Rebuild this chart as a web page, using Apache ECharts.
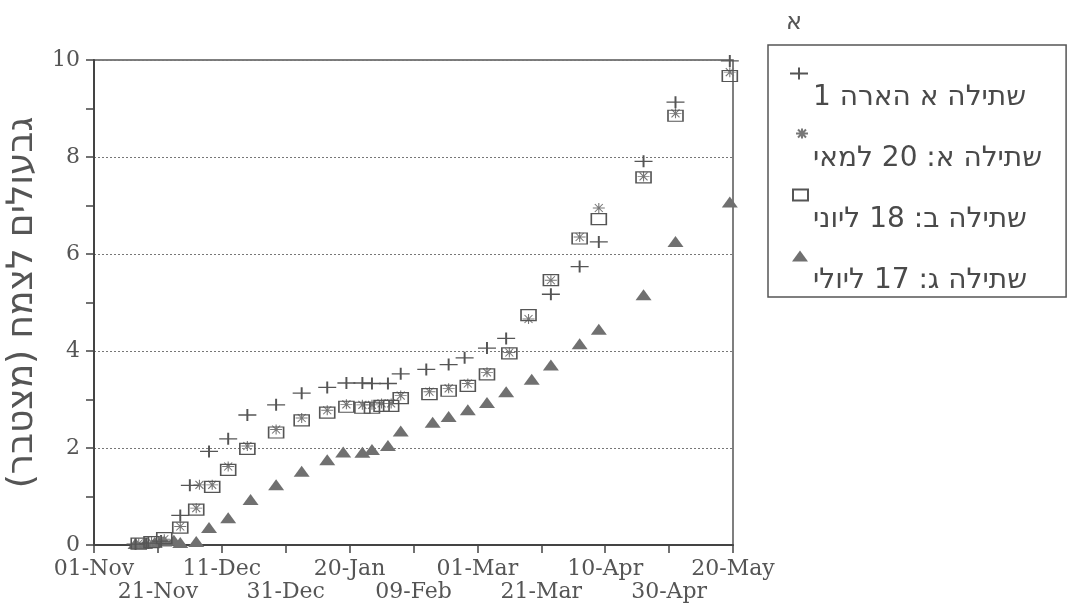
<!DOCTYPE html>
<html>
<head>
<meta charset="utf-8">
<script src="https://cdn.jsdelivr.net/npm/echarts@6/dist/echarts.min.js"></script>
<style>
  html, body { margin: 0; padding: 0; background: #ffffff; }
  #chart { width: 1071px; height: 612px; }
</style>
</head>
<body>
<div id="chart"></div>
<script>
// x values are days counted from 01-Nov
const xTickLabels = ['01-Nov','21-Nov','11-Dec','31-Dec','20-Jan','09-Feb','01-Mar','21-Mar','10-Apr','30-Apr','20-May'];
const seriesNames = ['שתילה א הארה 1', 'שתילה א: 20 למאי', 'שתילה ב: 18 ליוני', 'שתילה ג: 17 ליולי'];
const yAxisTitle = 'גבעולים לצמח (מצטבר)';
const panelTitle = 'א';

// series A  (+)
const aDays = [13,17,21,27,30,36,42,48,57,65,73,79,84,87,92,96,104,111,116,123,129,143,152,158,172,182,199];
const aVals = [0.02,0.04,0.08,0.61,1.23,1.93,2.19,2.68,2.89,3.13,3.25,3.34,3.34,3.33,3.33,3.53,3.62,3.72,3.86,4.06,4.26,5.17,5.74,6.25,7.91,9.13,9.98];
// series B  (*)
const bDays = [14,18,22,27,32,33,37,42,48,57,65,73,79,84,87,90,93,96,105,111,117,123,130,136,143,152,158,172,182,199];
const bVals = [0.03,0.06,0.12,0.38,0.76,1.24,1.24,1.62,2.04,2.38,2.62,2.78,2.9,2.89,2.89,2.92,2.92,3.08,3.16,3.23,3.33,3.56,3.97,4.66,5.46,6.35,6.95,7.6,8.9,9.75];
// series C  (square)
const cDays = [14,18,22,27,32,37,42,48,57,65,73,79,84,87,90,93,96,105,111,117,123,130,136,143,152,158,172,182,199];
const cVals = [0.03,0.06,0.14,0.36,0.73,1.2,1.55,1.98,2.32,2.57,2.73,2.85,2.83,2.83,2.87,2.87,3.03,3.11,3.18,3.28,3.52,3.95,4.74,5.46,6.32,6.72,7.58,8.85,9.67];
// series D  (triangle)
const dDays = [13,16,19,22,25,27,32,36,42,49,57,65,73,78,84,87,92,96,106,111,117,123,129,137,143,152,158,172,182,199];
const dVals = [0.03,0.03,0.05,0.08,0.1,0.05,0.07,0.36,0.56,0.94,1.24,1.52,1.76,1.92,1.91,1.97,2.05,2.35,2.53,2.65,2.79,2.94,3.16,3.42,3.71,4.15,4.45,5.16,6.26,7.07];

const RLM = '\u200F';
const pair = (d, v) => d.map((x, i) => [x, v[i]]);

const symA = 'path://M0,6 L18,6 M9,0 L9,12';
const symB = 'path://M0,5 L12,5 M6,0 L6,10 M2,1 L10,9 M10,1 L2,9';
const symC = 'path://M0,0 L15,0 L15,11 L0,11 Z';
const iconA = 'path://M0,36 M6,6 L24,6 M15,0 L15,12';
const iconB = 'path://M0,36 M12,5 L24,5 M18,0 L18,10 M14,1 L22,9 M22,1 L14,9';
const iconC = 'path://M0,36 M9,0 L24,0 L24,11 L9,11 Z';
const iconD = 'path://M0,36 M8,11 L16,0 L24,11 Z';

const chart = echarts.init(document.getElementById('chart'), null, { renderer: 'canvas' });
const serif = 'DejaVu Serif';
const sans = 'DejaVu Sans';

const xBase = {
  type: 'value', min: 0, max: 200, interval: 20, position: 'bottom', offset: 0,
  splitLine: { show: false }
};
const labelOf = (v) => xTickLabels[Math.round(v / 20)] || '';

chart.setOption({
  animation: false,
  backgroundColor: '#ffffff',
  title: {
    text: panelTitle, left: 781, top: 6,
    textStyle: { fontFamily: sans, fontSize: 24, fontWeight: 'normal', color: '#555' }
  },
  grid: { left: 94, right: 338, top: 60, bottom: 67, show: true, borderColor: '#555', borderWidth: 1.5, outerBoundsMode: 'none' },
  legend: {
    orient: 'vertical', left: 768, top: 45,
    padding: [14, 24, 2, 15], itemGap: 8,
    itemWidth: 24, itemHeight: 36,
    borderColor: '#555', borderWidth: 1.5,
    selectedMode: false,
    formatter: n => '\n' + RLM + n + RLM,
    textStyle: { fontFamily: sans, fontSize: 28, color: '#4a4a4a', lineHeight: 25 },
    data: [
      { name: seriesNames[0], icon: iconA },
      { name: seriesNames[1], icon: iconB },
      { name: seriesNames[2], icon: iconC },
      { name: seriesNames[3], icon: iconD }
    ]
  },
  xAxis: [
    Object.assign({}, xBase, {
      axisLine: { lineStyle: { color: '#444', width: 2 } },
      axisTick: { show: true, inside: false, length: 8, lineStyle: { color: '#444', width: 1.5 } },
      axisLabel: {
        margin: 13, fontFamily: serif, fontSize: 22, lineHeight: 23, color: '#555',
        showMinLabel: true, showMaxLabel: true,
        formatter: (v) => (Math.round(v / 20) % 2 === 0 ? labelOf(v) : '')
      }
    }),
    Object.assign({}, xBase, {
      axisLine: { show: false },
      axisTick: { show: false },
      axisLabel: {
        margin: 36, fontFamily: serif, fontSize: 22, lineHeight: 23, color: '#555',
        showMinLabel: false, showMaxLabel: false,
        formatter: (v) => (Math.round(v / 20) % 2 === 1 ? labelOf(v) : '')
      }
    })
  ],
  yAxis: {
    type: 'value', min: 0, max: 10, interval: 2,
    name: RLM + yAxisTitle + RLM, nameLocation: 'middle', nameRotate: 90, nameGap: 51,
    nameTextStyle: { fontFamily: sans, fontSize: 36, color: '#555' },
    axisLine: { show: true, lineStyle: { color: '#444', width: 2 } },
    axisTick: { show: true, inside: false, length: 8, lineStyle: { color: '#444', width: 1.5 } },
    minorTick: { show: true, splitNumber: 2, length: 8, lineStyle: { color: '#444', width: 1.5 } },
    splitLine: { show: true, lineStyle: { color: '#777', width: 1, type: [2, 2] } },
    axisLabel: { margin: 14, fontFamily: serif, fontSize: 22, color: '#555' }
  },
  series: [
    { name: seriesNames[0], type: 'scatter', data: pair(aDays, aVals), symbol: symA, symbolSize: [18, 12],
      itemStyle: { color: 'rgba(0,0,0,0)', borderColor: '#555', borderWidth: 1.6, opacity: 1 }, emphasis: { disabled: true }, z: 4 },
    { name: seriesNames[1], type: 'scatter', data: pair(bDays, bVals), symbol: symB, symbolSize: [12, 10],
      itemStyle: { color: 'rgba(0,0,0,0)', borderColor: '#777', borderWidth: 1, opacity: 1 }, emphasis: { disabled: true }, z: 3 },
    { name: seriesNames[2], type: 'scatter', data: pair(cDays, cVals), symbol: symC, symbolSize: [15, 11],
      itemStyle: { color: 'rgba(0,0,0,0)', borderColor: '#555', borderWidth: 1.4, opacity: 1 }, emphasis: { disabled: true }, z: 3 },
    { name: seriesNames[3], type: 'scatter', data: pair(dDays, dVals), symbol: 'triangle', symbolSize: [16, 11],
      itemStyle: { color: '#707070', opacity: 1 }, emphasis: { disabled: true }, z: 2 }
  ]
});
</script>
</body>
</html>
